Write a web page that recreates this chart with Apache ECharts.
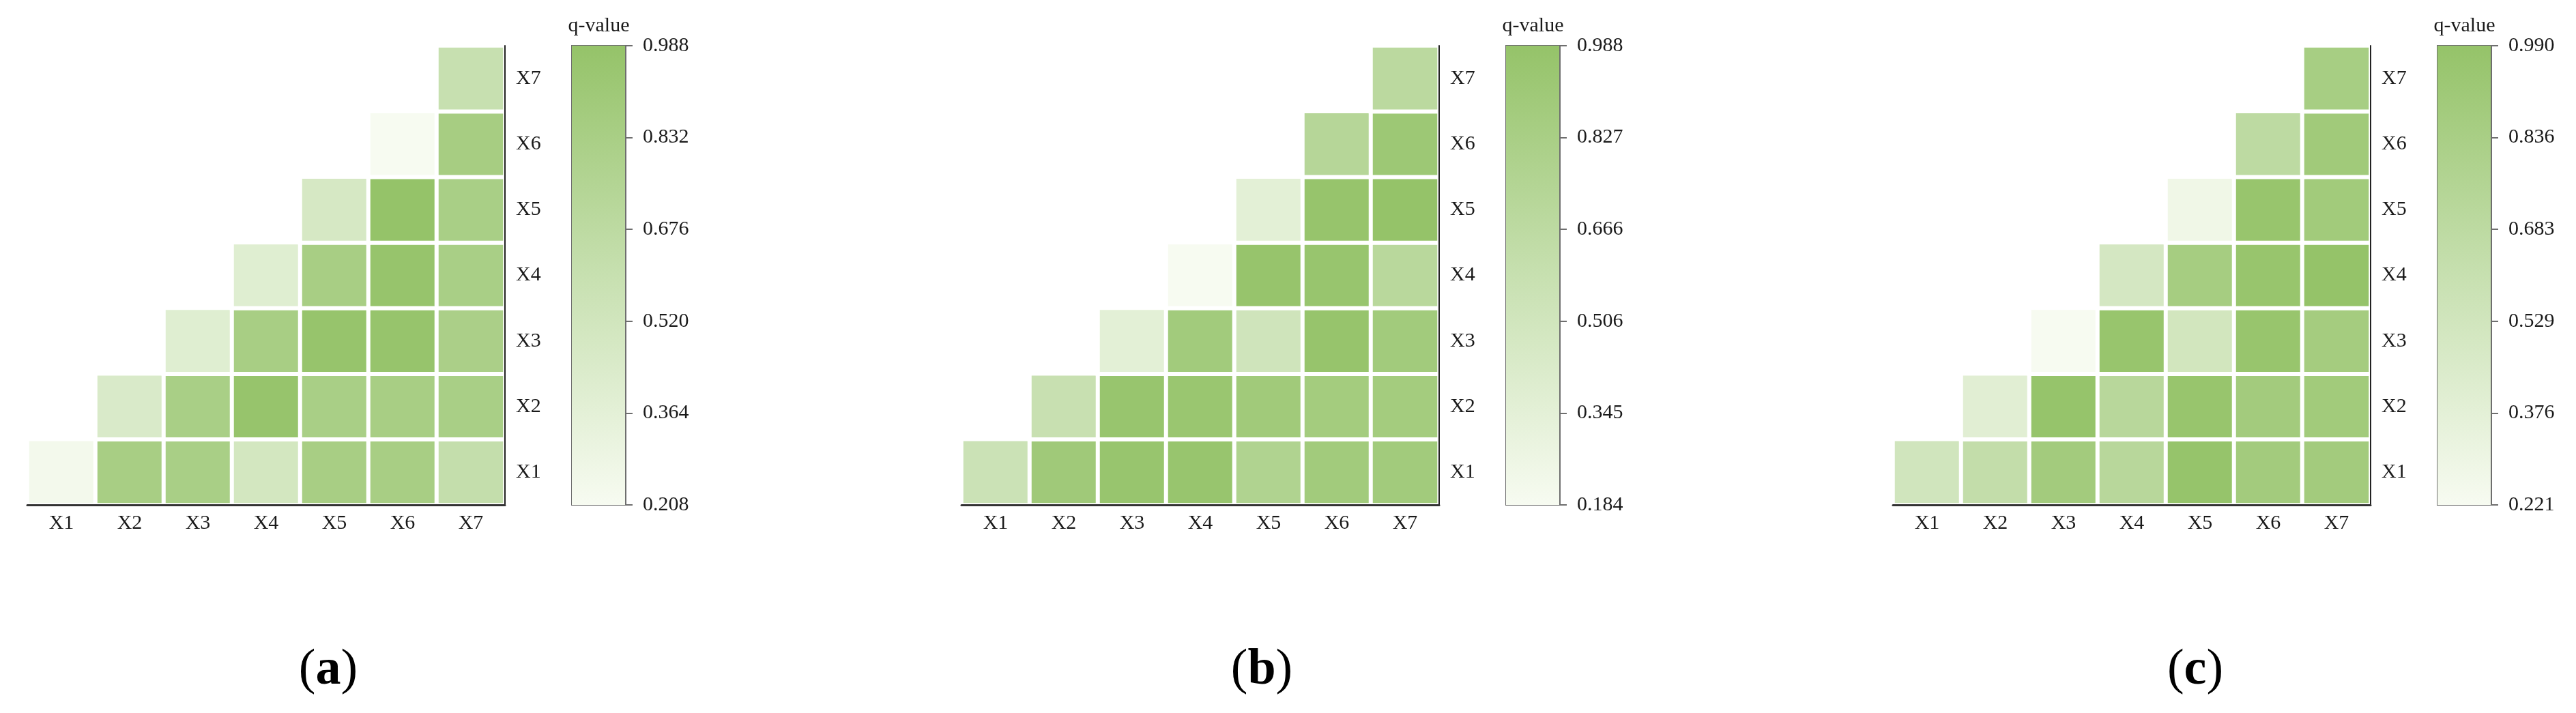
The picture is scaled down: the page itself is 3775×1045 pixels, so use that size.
<!DOCTYPE html>
<html>
<head>
<meta charset="utf-8">
<title>q-value heatmaps</title>
<script src="https://cdn.jsdelivr.net/npm/echarts@6/dist/echarts.min.js"></script>
<style>
  html, body { margin: 0; padding: 0; background: #fff; }
  #chart { width: 3775px; height: 1045px; }
</style>
</head>
<body>
<div id="chart"></div>
<script>
// factor names, used on both axes
const factors = ['X1', 'X2', 'X3', 'X4', 'X5', 'X6', 'X7']

// q-values, one row per y factor (X1 at the bottom); row k starts at column Xk
const qA = [
  [0.24, 0.84, 0.83, 0.50, 0.84, 0.84, 0.62],
  [0.45, 0.83, 0.97, 0.83, 0.84, 0.83],
  [0.40, 0.84, 0.97, 0.97, 0.82],
  [0.40, 0.84, 0.97, 0.83],
  [0.48, 0.988, 0.83],
  [0.208, 0.85],
  [0.60]
]
const qB = [
  [0.55, 0.90, 0.96, 0.96, 0.77, 0.88, 0.88],
  [0.58, 0.96, 0.95, 0.89, 0.87, 0.87],
  [0.35, 0.88, 0.52, 0.97, 0.88],
  [0.184, 0.97, 0.96, 0.70],
  [0.35, 0.97, 0.988],
  [0.72, 0.92],
  [0.68]
]
const qC = [
  [0.53, 0.64, 0.88, 0.72, 0.98, 0.88, 0.88],
  [0.40, 0.98, 0.72, 0.97, 0.88, 0.89],
  [0.221, 0.97, 0.52, 0.97, 0.87],
  [0.50, 0.86, 0.97, 0.99],
  [0.28, 0.97, 0.89],
  [0.68, 0.90],
  [0.85]
]

// colour bar tick labels, bottom to top
const ticksA = ['0.208', '0.364', '0.520', '0.676', '0.832', '0.988']
const ticksB = ['0.184', '0.345', '0.506', '0.666', '0.827', '0.988']
const ticksC = ['0.221', '0.376', '0.529', '0.683', '0.836', '0.990']

const panelNames = ['a', 'b', 'c']

// light -> dark green
const colors = ['#f7fbf1', '#c7e0b0', '#95c369']

const panels = [
  { q: qA, ticks: ticksA, left: 40, labelX: 481 },
  { q: qB, ticks: ticksB, left: 1409, labelX: 1849 },
  { q: qC, ticks: ticksC, left: 2774, labelX: 3217 }
]

const FONT = 'Liberation Serif, Times New Roman, serif'
const TOP = 67
const H = 673

const chart = echarts.init(document.getElementById('chart'), null, { renderer: 'canvas' })

const grid = []
const xAxis = []
const yAxis = []
const series = []
const visualMap = []
const graphic = []

panels.forEach((p, i) => {
  const data = []
  p.q.forEach((row, r) => {
    row.forEach((v, k) => {
      data.push([r + k, r, v])
    })
  })

  // heatmap grid
  grid.push({ left: p.left, top: TOP, width: 700, height: H })
  xAxis.push({
    type: 'category',
    gridIndex: 2 * i,
    data: factors,
    z: 10,
    axisLine: { lineStyle: { color: '#333', width: 3 } },
    axisTick: { alignWithLabel: true, length: 7, lineStyle: { color: '#333', width: 2 } },
    axisLabel: { fontFamily: FONT, fontSize: 30, color: '#1a1a1a', margin: 12 },
    splitLine: { show: false }
  })
  yAxis.push({
    type: 'category',
    gridIndex: 2 * i,
    data: factors,
    position: 'right',
    z: 10,
    axisLine: { lineStyle: { color: '#222', width: 2 } },
    axisTick: { alignWithLabel: true, length: 6, lineStyle: { color: '#222', width: 2 } },
    axisLabel: { fontFamily: FONT, fontSize: 30, color: '#1a1a1a', margin: 16 },
    splitLine: { show: false }
  })

  // colour bar grid
  grid.push({
    left: p.left + 798, top: TOP, width: 79, height: H,
    show: true, borderColor: '#6e6e6e', borderWidth: 2
  })
  xAxis.push({ type: 'category', gridIndex: 2 * i + 1, data: ['q'], show: false })
  yAxis.push({
    type: 'value',
    gridIndex: 2 * i + 1,
    min: 0,
    max: p.ticks.length - 1,
    interval: 1,
    position: 'right',
    z: 10,
    axisLine: { show: true, lineStyle: { color: '#6e6e6e', width: 2 } },
    axisTick: { show: true, length: 10, lineStyle: { color: '#6e6e6e', width: 2 } },
    axisLabel: {
      fontFamily: FONT, fontSize: 30, color: '#1a1a1a', margin: 25,
      formatter: (v) => p.ticks[Math.round(v)]
    },
    splitLine: { show: false }
  })

  series.push({
    type: 'heatmap',
    name: 'q' + panelNames[i],
    xAxisIndex: 2 * i,
    yAxisIndex: 2 * i,
    data: data,
    itemStyle: { borderColor: '#fff', borderWidth: 6 },
    emphasis: { disabled: true }
  })
  series.push({
    type: 'bar',
    xAxisIndex: 2 * i + 1,
    yAxisIndex: 2 * i + 1,
    data: [p.ticks.length - 1],
    barWidth: '100%',
    silent: true,
    itemStyle: {
      color: new echarts.graphic.LinearGradient(0, 0, 0, 1, [
        { offset: 0, color: colors[2] },
        { offset: 0.5, color: colors[1] },
        { offset: 1, color: colors[0] }
      ])
    }
  })

  visualMap.push({
    type: 'continuous',
    show: false,
    seriesIndex: 2 * i,
    min: parseFloat(p.ticks[0]),
    max: parseFloat(p.ticks[p.ticks.length - 1]),
    inRange: { color: colors }
  })

  graphic.push({
    type: 'text',
    x: p.left + 798 + 39.5,
    y: 38,
    style: {
      text: 'q-value', font: '30px ' + FONT, fill: '#1a1a1a',
      textAlign: 'center', textVerticalAlign: 'middle'
    }
  })
  graphic.push({
    type: 'text',
    x: p.labelX,
    y: 983,
    style: {
      text: '{p|(}{b|' + panelNames[i] + '}{p|)}',
      textAlign: 'center',
      textVerticalAlign: 'middle',
      rich: {
        p: { fontFamily: FONT, fontSize: 74, fill: '#000', color: '#000' },
        b: { fontFamily: FONT, fontSize: 74, fontWeight: 'bold', fill: '#000', color: '#000' }
      }
    }
  })
})

chart.setOption({
  animation: false,
  grid: grid,
  xAxis: xAxis,
  yAxis: yAxis,
  visualMap: visualMap,
  series: series,
  graphic: graphic
})
</script>
</body>
</html>
